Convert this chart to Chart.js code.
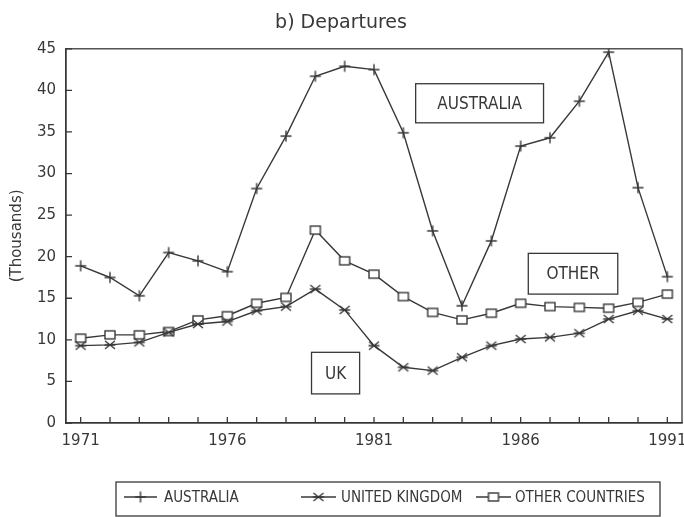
<!DOCTYPE html>
<html>
<head>
<meta charset="utf-8">
<script src="https://cdn.jsdelivr.net/npm/chart.js@4.4.0/dist/chart.umd.min.js"></script>
<style>
    html, body { margin: 0; padding: 0; background: #fff; }
    canvas { display: block; }
</style>
</head>
<body>
<canvas id="departuresChart" width="684" height="517"></canvas>
<script>
// Departures, thousands per year
const years = ['1971', '1972', '1973', '1974', '1975', '1976', '1977', '1978', '1979', '1980', '1981',
    '1982', '1983', '1984', '1985', '1986', '1987', '1988', '1989', '1990', '1991'];
const australia = [18.9, 17.5, 15.3, 20.5, 19.5, 18.2, 28.2, 34.5, 41.7, 42.9, 42.5,
    34.9, 23.1, 14.1, 21.9, 33.3, 34.3, 38.7, 44.6, 28.3, 17.6];
const unitedKingdom = [9.3, 9.4, 9.7, 10.9, 11.9, 12.2, 13.5, 14.0, 16.1, 13.6, 9.3,
    6.7, 6.3, 7.9, 9.3, 10.1, 10.3, 10.8, 12.5, 13.5, 12.5];
const otherCountries = [10.2, 10.6, 10.6, 11.0, 12.4, 12.9, 14.4, 15.1, 23.2, 19.5, 17.9,
    15.2, 13.3, 12.4, 13.2, 14.4, 14.0, 13.9, 13.8, 14.5, 15.5];
const seriesNames = ['AUSTRALIA', 'UNITED KINGDOM', 'OTHER COUNTRIES'];
const boxLabels = ['AUSTRALIA', 'OTHER', 'UK'];

const ink = '#383838';
const sans = "'DejaVu Sans', sans-serif";
const narrow = "'DejaVu Sans Condensed', 'Liberation Sans Narrow', 'DejaVu Sans', sans-serif";

// little canvases used as point markers
function makeMarker(kind) {
    const c = document.createElement('canvas');
    c.width = 14;
    c.height = 14;
    const g = c.getContext('2d');
    g.strokeStyle = ink;
    g.lineWidth = 1.4;
    g.beginPath();
    if (kind === 'plus') {
        g.moveTo(7, 1.5); g.lineTo(7, 12.5);
        g.moveTo(1.5, 7); g.lineTo(12.5, 7);
        g.stroke();
    } else if (kind === 'star') {
        g.moveTo(2, 3); g.lineTo(12, 11);
        g.moveTo(2, 11); g.lineTo(12, 3);
        g.moveTo(1.5, 7); g.lineTo(12.5, 7);
        g.stroke();
    } else {
        g.fillStyle = '#fff';
        g.fillRect(2, 3, 10, 8);
        g.strokeRect(2, 3, 10, 8);
    }
    return c;
}
const markers = [makeMarker('plus'), makeMarker('star'), makeMarker('box')];

// frame, inward ticks, label boxes and the boxed legend
const decorations = {
    id: 'decorations',
    afterDatasetsDraw(chart) {
        const ctx = chart.ctx;
        const a = chart.chartArea;
        const xs = chart.scales.x;
        const ys = chart.scales.y;
        ctx.save();
        ctx.strokeStyle = ink;
        ctx.lineWidth = 1.3;
        ctx.strokeRect(a.left, a.top, a.right - a.left, a.bottom - a.top);

        ctx.beginPath();
        xs.ticks.forEach((t, i) => {
            const px = xs.getPixelForTick(i);
            ctx.moveTo(px, a.bottom);
            ctx.lineTo(px, a.bottom - 6);
        });
        ys.ticks.forEach((t, i) => {
            const py = ys.getPixelForTick(i);
            ctx.moveTo(a.left, py);
            ctx.lineTo(a.left + 6, py);
        });
        ctx.stroke();

        // boxed series labels, corners in (index, value)
        const boxes = [[11.42, 40.8, 15.78, 36.1], [15.26, 20.4, 18.31, 15.5], [7.87, 8.5, 9.51, 3.5]];
        ctx.font = '17px ' + narrow;
        ctx.fillStyle = ink;
        ctx.textAlign = 'center';
        ctx.textBaseline = 'middle';
        boxes.forEach((b, i) => {
            const x0 = xs.getPixelForValue(b[0]);
            const y0 = ys.getPixelForValue(b[1]);
            const x1 = xs.getPixelForValue(b[2]);
            const y1 = ys.getPixelForValue(b[3]);
            ctx.strokeRect(x0, y0, x1 - x0, y1 - y0);
            ctx.fillText(boxLabels[i], (x0 + x1) / 2, (y0 + y1) / 2 + 1);
        });

        // legend
        ctx.strokeRect(116, 482, 544, 34);
        const items = [[124, 157, 164], [301, 336, 341], [476, 511, 515]];
        const ly = 497;
        ctx.font = '15px ' + narrow;
        ctx.textAlign = 'left';
        chart.data.datasets.forEach((ds, i) => {
            const it = items[i];
            ctx.beginPath();
            ctx.moveTo(it[0], ly);
            ctx.lineTo(it[1], ly);
            ctx.stroke();
            ctx.drawImage(markers[i], (it[0] + it[1]) / 2 - 7, ly - 7);
            ctx.fillText(ds.label, it[2], ly + 1);
        });
        ctx.restore();
    }
};

const ctxDep = document.getElementById('departuresChart');

new Chart(ctxDep, {
    type: 'line',
    data: {
        labels: years,
        datasets: [australia, unitedKingdom, otherCountries].map((values, i) => ({
            label: seriesNames[i],
            data: values,
            borderColor: ink,
            borderWidth: 1.4,
            tension: 0,
            fill: false,
            pointStyle: markers[i],
            pointRadius: 6
        }))
    },
    options: {
        responsive: false,
        animation: false,
        layout: {
            autoPadding: false,
            padding: { left: 0, right: 2, top: 0, bottom: 0 }
        },
        plugins: {
            legend: { display: false },
            tooltip: { enabled: false },
            title: {
                display: true,
                text: 'b) Departures',
                color: ink,
                font: { family: sans, size: 19, weight: 'normal' },
                padding: { top: 12, bottom: 14 }
            }
        },
        scales: {
            x: {
                offset: true,
                grid: { display: false, drawTicks: false },
                border: { display: true, color: ink, width: 1.3 },
                ticks: {
                    autoSkip: false,
                    maxRotation: 0,
                    padding: 9,
                    color: ink,
                    font: { family: sans, size: 15 },
                    callback: function (v, i) {
                        return (i % 5 === 0) ? years[i] : '';
                    }
                },
                afterFit: function (scale) {
                    scale.height = 94;
                    scale.paddingLeft = 0;
                    scale.paddingRight = 0;
                }
            },
            y: {
                min: 0,
                max: 45,
                grid: { display: false, drawTicks: false },
                border: { display: true, color: ink, width: 1.3 },
                ticks: {
                    stepSize: 5,
                    padding: 10,
                    color: ink,
                    font: { family: sans, size: 15 }
                },
                title: {
                    display: true,
                    text: '(Thousands)',
                    color: ink,
                    font: { family: sans, size: 15 },
                    padding: { top: 8, bottom: 0 }
                },
                afterFit: function (scale) { scale.width = 66; }
            }
        }
    },
    plugins: [decorations]
});
</script>
</body>
</html>
